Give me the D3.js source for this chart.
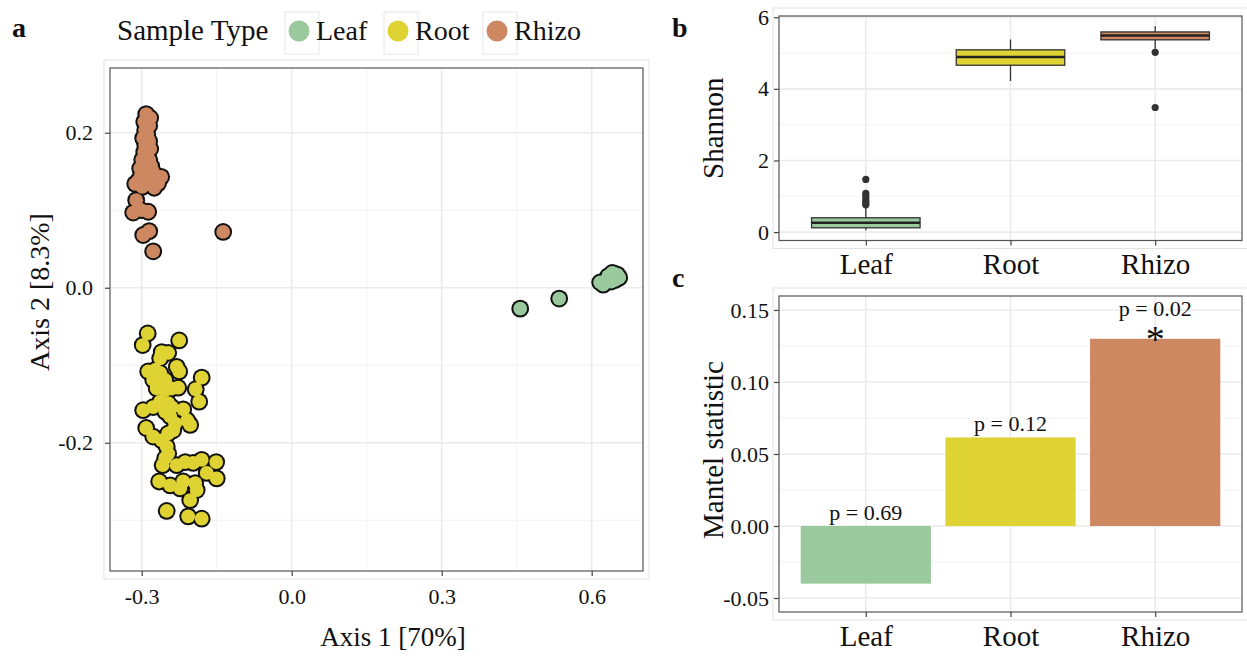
<!DOCTYPE html>
<html><head><meta charset="utf-8">
<script src="https://cdn.jsdelivr.net/npm/d3@7"></script>
<style>
body{margin:0;background:#fff}
svg{display:block}
text{font-family:"Liberation Serif","Times New Roman",serif;fill:#111}
</style>
</head><body>
<svg id="chart" width="1247" height="656"></svg>
<script>
// ---------------- DATA ----------------
const sampleTypes = ["Leaf", "Root", "Rhizo"];
const typeColors = ["#99C99C", "#DFD334", "#CD8862"];

// Panel a: PCoA coordinates
const leafAxis1 = [0.457, 0.535, 0.617, 0.623, 0.629, 0.635, 0.641, 0.645, 0.651, 0.655, 0.647, 0.639, 0.633, 0.641];
const leafAxis2 = [-0.027, -0.014, 0.007, 0.004, 0.008, 0.011, 0.014, 0.018, 0.017, 0.013, 0.010, 0.008, 0.015, 0.019];

const rootAxis1 = [-0.288, -0.298, -0.225, -0.260, -0.247, -0.263, -0.230, -0.225, -0.287, -0.273, -0.263, -0.277, -0.267, -0.253,
  -0.270, -0.253, -0.240, -0.227, -0.180, -0.192, -0.185, -0.297, -0.277, -0.263, -0.247, -0.240, -0.253, -0.243, -0.233, -0.217,
  -0.209, -0.203, -0.291, -0.277, -0.260, -0.247, -0.237, -0.250, -0.247, -0.253, -0.258, -0.230, -0.213, -0.197, -0.180, -0.151,
  -0.170, -0.150, -0.265, -0.243, -0.223, -0.217, -0.193, -0.190, -0.203, -0.250, -0.207, -0.180];
const rootAxis2 = [-0.059, -0.074, -0.068, -0.083, -0.084, -0.091, -0.102, -0.108, -0.108, -0.106, -0.110, -0.119, -0.121, -0.119,
  -0.130, -0.132, -0.130, -0.129, -0.116, -0.131, -0.147, -0.158, -0.154, -0.147, -0.149, -0.154, -0.160, -0.166, -0.175, -0.157,
  -0.171, -0.177, -0.181, -0.192, -0.197, -0.188, -0.184, -0.205, -0.214, -0.220, -0.229, -0.229, -0.225, -0.226, -0.222, -0.225,
  -0.239, -0.246, -0.250, -0.255, -0.259, -0.250, -0.252, -0.261, -0.274, -0.288, -0.295, -0.298];

const rhizoAxis1 = [-0.291, -0.283, -0.295, -0.285, -0.293, -0.289, -0.297, -0.285, -0.293, -0.283, -0.295, -0.289, -0.299, -0.285,
  -0.293, -0.281, -0.303, -0.289, -0.277, -0.301, -0.287, -0.271, -0.261, -0.307, -0.293, -0.279, -0.267, -0.313, -0.299, -0.275,
  -0.311, -0.317, -0.287, -0.301, -0.297, -0.285, -0.277, -0.137];
const rhizoAxis2 = [0.224, 0.219, 0.214, 0.209, 0.203, 0.198, 0.193, 0.189, 0.184, 0.179, 0.175, 0.170, 0.165, 0.165,
  0.160, 0.157, 0.154, 0.152, 0.149, 0.145, 0.144, 0.144, 0.143, 0.138, 0.136, 0.134, 0.135, 0.134, 0.130, 0.129,
  0.113, 0.097, 0.098, 0.100, 0.068, 0.073, 0.047, 0.072];

const axisATicksX = [-0.3, 0.0, 0.3, 0.6];
const axisATicksY = [-0.2, 0.0, 0.2];

// Panel b: Shannon boxplot statistics
const shannonLowerWhisker = [0.05, 4.22, 5.12];
const shannonQ1 = [0.12, 4.66, 5.37];
const shannonMedian = [0.26, 4.89, 5.49];
const shannonQ3 = [0.40, 5.09, 5.59];
const shannonUpperWhisker = [0.69, 5.38, 5.75];
const shannonOutliers = [[1.47, 1.08, 1.01, 0.93, 0.86, 0.80, 0.76], [], [5.02, 3.48]];
const shannonTicks = [0, 2, 4, 6];

// Panel c: Mantel statistic
const mantelValues = [-0.040, 0.0615, 0.130];
const mantelPLabels = ["p = 0.69", "p = 0.12", "p = 0.02"];
const mantelStars = ["", "", "*"];
const mantelTicks = [-0.05, 0.00, 0.05, 0.10, 0.15];

// ---------------- DRAW ----------------
const svg = d3.select("#chart");
const GRID = "#EBEBEB", GRIDMINOR = "#F3F3F3", BORDER = "#555", TICKC = "#444";
const tickFont = 22, titleFont = 29, catFont = 29;

function frame(g, x0, x1, y0, y1) {
  g.append("rect").attr("x", x0 - 6).attr("y", y0 - 8).attr("width", x1 - x0 + 12).attr("height", y1 - y0 + 16)
    .attr("fill", "none").attr("stroke", "#E2E2E2").attr("stroke-width", 1);
}

// ===== Panel a =====
const A = {l: 110, r: 643, t: 68, b: 571};
const xA = d3.scaleLinear().domain([-0.3634, 0.7026]).range([A.l, A.r]);
const yA = d3.scaleLinear().domain([-0.3655, 0.2835]).range([A.b, A.t]);
const gA = svg.append("g");
frame(gA, A.l, A.r, A.t, A.b);
gA.append("rect").attr("x", A.l).attr("y", A.t).attr("width", A.r - A.l).attr("height", A.b - A.t).attr("fill", "#fff");
const minorAX = [-0.15, 0.15, 0.45], minorAY = [-0.3, -0.1, 0.1];
minorAX.forEach(v => gA.append("line").attr("x1", xA(v)).attr("x2", xA(v)).attr("y1", A.t).attr("y2", A.b).attr("stroke", GRIDMINOR).attr("stroke-width", 1));
minorAY.forEach(v => gA.append("line").attr("y1", yA(v)).attr("y2", yA(v)).attr("x1", A.l).attr("x2", A.r).attr("stroke", GRIDMINOR).attr("stroke-width", 1));
axisATicksX.forEach(v => gA.append("line").attr("x1", xA(v)).attr("x2", xA(v)).attr("y1", A.t).attr("y2", A.b).attr("stroke", GRID).attr("stroke-width", 1.6));
axisATicksY.forEach(v => gA.append("line").attr("y1", yA(v)).attr("y2", yA(v)).attr("x1", A.l).attr("x2", A.r).attr("stroke", GRID).attr("stroke-width", 1.6));

const groupsA = [[leafAxis1, leafAxis2], [rootAxis1, rootAxis2], [rhizoAxis1, rhizoAxis2]];
groupsA.forEach((grp, gi) => {
  const pts = grp[0].map((x, i) => ({x, y: grp[1][i]}));
  const g = gA.append("g");
  // outline layer, then fill layer -> clusters merge into blobs with one outer outline
  g.append("g").selectAll("circle").data(pts).join("circle")
    .attr("cx", d => xA(d.x)).attr("cy", d => yA(d.y)).attr("r", 8.9).attr("fill", "#111");
  g.append("g").selectAll("circle").data(pts).join("circle")
    .attr("cx", d => xA(d.x)).attr("cy", d => yA(d.y)).attr("r", 6.9).attr("fill", typeColors[gi]);
});
gA.append("rect").attr("x", A.l).attr("y", A.t).attr("width", A.r - A.l).attr("height", A.b - A.t)
  .attr("fill", "none").attr("stroke", BORDER).attr("stroke-width", 1.2);

const axXA = gA.append("g").attr("transform", `translate(0,${A.b})`)
  .call(d3.axisBottom(xA).tickValues(axisATicksX).tickSize(5).tickPadding(12).tickFormat(d => d.toFixed(1)));
const axYA = gA.append("g").attr("transform", `translate(${A.l},0)`)
  .call(d3.axisLeft(yA).tickValues(axisATicksY).tickSize(5).tickPadding(12).tickFormat(d => d.toFixed(1)));
[axXA, axYA].forEach(ax => {
  ax.select(".domain").remove();
  ax.selectAll(".tick line").attr("stroke", TICKC).attr("stroke-width", 1.2);
  ax.selectAll(".tick text").attr("font-size", tickFont).attr("font-family", "Liberation Serif").attr("fill", "#222");
});
gA.append("text").attr("x", 393).attr("y", 646).attr("text-anchor", "middle")
  .attr("font-size", 27).text("Axis 1 [70%]");
gA.append("text").attr("transform", `translate(49,292) rotate(-90)`).attr("text-anchor", "middle")
  .attr("font-size", 28).text("Axis 2 [8.3%]");

// Legend
const legG = svg.append("g");
legG.append("text").attr("x", 117).attr("y", 40).attr("font-size", titleFont).text("Sample Type");
const legX = [299, 398, 497];
sampleTypes.forEach((s, i) => {
  legG.append("rect").attr("x", legX[i] - 14).attr("y", 12).attr("width", 34).attr("height", 42)
    .attr("fill", "#fff").attr("stroke", "#E6E6E6").attr("stroke-width", 1);
  legG.append("circle").attr("cx", legX[i]).attr("cy", 31).attr("r", 10.5).attr("fill", typeColors[i]);
  legG.append("text").attr("x", legX[i] + 17).attr("y", 40).attr("font-size", 28).text(s);
});

// Panel letters
svg.append("text").attr("x", 12).attr("y", 37).attr("font-size", 28).attr("font-weight", "bold").text("a");
svg.append("text").attr("x", 672).attr("y", 37).attr("font-size", 28).attr("font-weight", "bold").text("b");
svg.append("text").attr("x", 672).attr("y", 287).attr("font-size", 28).attr("font-weight", "bold").text("c");

// ===== Panel b =====
const B = {l: 779, r: 1242, t: 16, b: 240.5};
const xBc = d3.scalePoint().domain(sampleTypes).range([B.l + (B.r - B.l) * 0.6 / 3.2, B.r - (B.r - B.l) * 0.6 / 3.2]);
const stepB = (B.r - B.l) / 3.2;
const yB = d3.scaleLinear().domain([-0.235, 6.035]).range([B.b, B.t]);
const gB = svg.append("g");
frame(gB, B.l, B.r, B.t, B.b);
[1, 3, 5].forEach(v => gB.append("line").attr("x1", B.l).attr("x2", B.r).attr("y1", yB(v)).attr("y2", yB(v)).attr("stroke", GRIDMINOR).attr("stroke-width", 1));
shannonTicks.forEach(v => gB.append("line").attr("x1", B.l).attr("x2", B.r).attr("y1", yB(v)).attr("y2", yB(v)).attr("stroke", GRID).attr("stroke-width", 1.6));
sampleTypes.forEach(s => gB.append("line").attr("x1", xBc(s)).attr("x2", xBc(s)).attr("y1", B.t).attr("y2", B.b).attr("stroke", GRID).attr("stroke-width", 1.6));
sampleTypes.forEach((s, i) => {
  const cx = xBc(s), hw = stepB * 0.75 / 2;
  gB.append("line").attr("x1", cx).attr("x2", cx).attr("y1", yB(shannonLowerWhisker[i])).attr("y2", yB(shannonUpperWhisker[i]))
    .attr("stroke", "#333").attr("stroke-width", 1.3);
  gB.append("rect").attr("x", cx - hw).attr("width", 2 * hw).attr("y", yB(shannonQ3[i])).attr("height", yB(shannonQ1[i]) - yB(shannonQ3[i]))
    .attr("fill", typeColors[i]).attr("stroke", "#333").attr("stroke-width", 1.3);
  gB.append("line").attr("x1", cx - hw).attr("x2", cx + hw).attr("y1", yB(shannonMedian[i])).attr("y2", yB(shannonMedian[i]))
    .attr("stroke", "#222").attr("stroke-width", 2.6);
  gB.selectAll(null).data(shannonOutliers[i]).join("circle").attr("cx", cx).attr("cy", d => yB(d)).attr("r", 3.6).attr("fill", "#333");
});
gB.append("rect").attr("x", B.l).attr("y", B.t).attr("width", B.r - B.l).attr("height", B.b - B.t)
  .attr("fill", "none").attr("stroke", BORDER).attr("stroke-width", 1.2);
const axYB = gB.append("g").attr("transform", `translate(${B.l},0)`)
  .call(d3.axisLeft(yB).tickValues(shannonTicks).tickSize(5).tickPadding(5).tickFormat(d3.format("d")));
const axXB = gB.append("g").attr("transform", `translate(0,${B.b})`)
  .call(d3.axisBottom(xBc).tickSize(5).tickPadding(8));
[axXB, axYB].forEach(ax => {
  ax.select(".domain").remove();
  ax.selectAll(".tick line").attr("stroke", TICKC).attr("stroke-width", 1.2);
  ax.selectAll(".tick text").attr("font-family", "Liberation Serif").attr("fill", "#111");
});
axYB.selectAll(".tick text").attr("font-size", tickFont);
axXB.selectAll(".tick text").attr("font-size", catFont);
gB.append("text").attr("transform", `translate(723,${(B.t + B.b) / 2}) rotate(-90)`).attr("text-anchor", "middle")
  .attr("font-size", titleFont).text("Shannon");

// ===== Panel c =====
const C = {l: 779, r: 1242, t: 296, b: 612};
const xCc = d3.scalePoint().domain(sampleTypes).range([C.l + (C.r - C.l) * 0.6 / 3.2, C.r - (C.r - C.l) * 0.6 / 3.2]);
const stepC = (C.r - C.l) / 3.2;
const yC = d3.scaleLinear().domain([-0.0597, 0.1597]).range([C.b, C.t]);
const gC = svg.append("g");
frame(gC, C.l, C.r, C.t, C.b);
[-0.025, 0.025, 0.075, 0.125].forEach(v => gC.append("line").attr("x1", C.l).attr("x2", C.r).attr("y1", yC(v)).attr("y2", yC(v)).attr("stroke", GRIDMINOR).attr("stroke-width", 1));
mantelTicks.forEach(v => gC.append("line").attr("x1", C.l).attr("x2", C.r).attr("y1", yC(v)).attr("y2", yC(v)).attr("stroke", GRID).attr("stroke-width", 1.6));
sampleTypes.forEach(s => gC.append("line").attr("x1", xCc(s)).attr("x2", xCc(s)).attr("y1", C.t).attr("y2", C.b).attr("stroke", GRID).attr("stroke-width", 1.6));
sampleTypes.forEach((s, i) => {
  const cx = xCc(s), hw = stepC * 0.9 / 2, v = mantelValues[i];
  gC.append("rect").attr("x", cx - hw).attr("width", 2 * hw)
    .attr("y", yC(Math.max(0, v))).attr("height", Math.abs(yC(v) - yC(0))).attr("fill", typeColors[i]);
  const top = yC(Math.max(0, v));
  if (mantelStars[i]) {
    gC.append("text").attr("x", cx).attr("y", top + 13).attr("text-anchor", "middle").attr("font-size", 38).text(mantelStars[i]);
    gC.append("text").attr("x", cx).attr("y", top - 23).attr("text-anchor", "middle").attr("font-size", 22).text(mantelPLabels[i]);
  } else {
    gC.append("text").attr("x", cx).attr("y", top - 6).attr("text-anchor", "middle").attr("font-size", 22).text(mantelPLabels[i]);
  }
});
gC.append("rect").attr("x", C.l).attr("y", C.t).attr("width", C.r - C.l).attr("height", C.b - C.t)
  .attr("fill", "none").attr("stroke", BORDER).attr("stroke-width", 1.2);
const axYC = gC.append("g").attr("transform", `translate(${C.l},0)`)
  .call(d3.axisLeft(yC).tickValues(mantelTicks).tickSize(5).tickPadding(5).tickFormat(d => d.toFixed(2)));
const axXC = gC.append("g").attr("transform", `translate(0,${C.b})`)
  .call(d3.axisBottom(xCc).tickSize(5).tickPadding(8));
[axXC, axYC].forEach(ax => {
  ax.select(".domain").remove();
  ax.selectAll(".tick line").attr("stroke", TICKC).attr("stroke-width", 1.2);
  ax.selectAll(".tick text").attr("font-family", "Liberation Serif").attr("fill", "#111");
});
axYC.selectAll(".tick text").attr("font-size", tickFont);
axXC.selectAll(".tick text").attr("font-size", catFont);
gC.append("text").attr("transform", `translate(723,450) rotate(-90)`).attr("text-anchor", "middle")
  .attr("font-size", titleFont).text("Mantel statistic");
</script>
</body></html>
